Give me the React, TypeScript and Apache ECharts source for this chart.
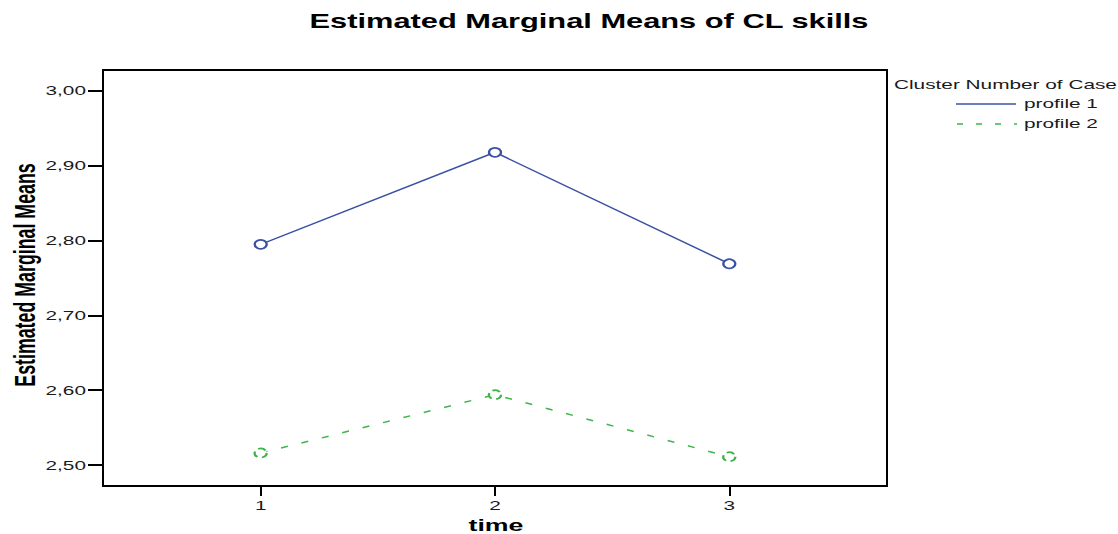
import React, { useEffect, useRef } from "react";
import * as echarts from "echarts";

const times = [1, 2, 3];
const profile1 = [2.795, 2.918, 2.769];
const profile2 = [2.516, 2.594, 2.511];
const yTicks = [2.5, 2.6, 2.7, 2.8, 2.9, 3.0];
const seriesNames = ["profile 1", "profile 2"];
const legendTitle = "Cluster Number of Case";
const chartTitle = "Estimated Marginal Means of CL skills";
const xName = "time";
const yName = "Estimated Marginal Means";

const BLUE = "#3b52a3";
const GREEN = "#3db54a";
const FONT = "Liberation Sans, Arial, sans-serif";
const SX = 1.6; // horizontal stretch of the reference's text

export default function App() {
  const ref = useRef<HTMLDivElement>(null);
  useEffect(() => {
    if (!ref.current) return;
    const chart = echarts.init(ref.current, null, { renderer: "svg" });
    chart.setOption({
      animation: false,
      backgroundColor: "#fff",
      grid: {
        left: 103,
        right: 231,
        top: 70,
        bottom: 48,
        show: true,
        borderColor: "#000",
        borderWidth: 2,
        backgroundColor: "#fff",
        containLabel: false,
        outerBoundsMode: "none",
      },
      xAxis: {
        type: "value",
        min: 0.327,
        max: 3.673,
        splitLine: { show: false },
        axisLine: { show: true, lineStyle: { color: "#000", width: 2 } },
        axisTick: { show: true, customValues: times, length: 10, lineStyle: { color: "#000", width: 2 } },
        axisLabel: { show: false },
      },
      yAxis: {
        type: "value",
        min: 2.472,
        max: 3.028,
        splitLine: { show: false },
        axisLine: { show: true, lineStyle: { color: "#000", width: 2 } },
        axisTick: { show: true, customValues: yTicks, length: 15, lineStyle: { color: "#000", width: 2 } },
        axisLabel: { show: false },
      },
      series: [
        {
          name: seriesNames[0],
          type: "line",
          data: times.map((t, i) => [t, profile1[i]]),
          symbol: "emptyCircle",
          symbolSize: [12, 9],
          lineStyle: { color: BLUE, width: 1.5 },
          itemStyle: { color: BLUE, borderColor: BLUE, borderWidth: 1.7 },
        },
        {
          name: seriesNames[1],
          type: "line",
          data: times.map((t, i) => [t, profile2[i]]),
          symbol: "emptyCircle",
          symbolSize: [12, 9],
          lineStyle: { color: GREEN, width: 1.5, type: [7, 14] },
          itemStyle: { color: GREEN, borderColor: GREEN, borderWidth: 1.7, borderType: [7, 4] },
        },
      ],
    });

    const txt = (text: string, x: number, y: number, opts: any = {}) => ({
      type: "text",
      x,
      y,
      scaleX: opts.scaleX ?? SX,
      scaleY: opts.scaleY ?? 1,
      rotation: opts.rotation ?? 0,
      z: 100,
      style: {
        text,
        x: 0,
        y: 0,
        fontFamily: FONT,
        fontSize: opts.fontSize ?? 12,
        fontWeight: opts.fontWeight ?? "normal",
        fill: opts.fill ?? "#1a1a1a",
        align: opts.align ?? "left",
        verticalAlign: opts.verticalAlign ?? "middle",
      },
    });

    const graphics: any[] = [];
    // title
    graphics.push(txt(chartTitle, 589, 21, { fontSize: 19.5, fontWeight: "bold", align: "center", fill: "#000", scaleX: 1.58 }));
    // y tick labels
    yTicks.forEach((v) => {
      const p = chart.convertToPixel({ gridIndex: 0 }, [1, v]) as number[];
      graphics.push(txt(v.toFixed(2).replace(".", ","), 86, p[1], { fontSize: 13, align: "right" }));
    });
    // x tick labels
    times.forEach((t) => {
      const p = chart.convertToPixel({ gridIndex: 0 }, [t, 2.5]) as number[];
      graphics.push(txt(String(t), p[0], 506, { fontSize: 13, align: "center" }));
    });
    // axis names
    graphics.push(txt(xName, 496, 525, { fontSize: 16.5, fontWeight: "bold", align: "center", fill: "#000", scaleX: 1.62 }));
    graphics.push(
      txt(yName, 25, 275, {
        fontSize: 17.8,
        fontWeight: "bold",
        align: "center",
        fill: "#000",
        rotation: Math.PI / 2,
        scaleX: 1,
        scaleY: 1.7,
      })
    );
    // legend
    graphics.push(txt(legendTitle, 894, 85, { fontSize: 13 }));
    graphics.push({
      type: "line",
      shape: { x1: 956, y1: 104, x2: 1016, y2: 104 },
      style: { stroke: BLUE, lineWidth: 1.5 },
    });
    graphics.push(txt(seriesNames[0], 1024, 104, { fontSize: 13 }));
    graphics.push({
      type: "line",
      shape: { x1: 957, y1: 124, x2: 1017, y2: 124 },
      style: { stroke: GREEN, lineWidth: 1.5, lineDash: [6, 13] },
    });
    graphics.push(txt(seriesNames[1], 1024, 124, { fontSize: 13 }));

    chart.setOption({ graphic: graphics });
    return () => chart.dispose();
  }, []);
  return (
    <div
      ref={ref}
      style={{ position: "fixed", left: 0, top: 0, width: 1118, height: 534 }}
    />
  );
}
